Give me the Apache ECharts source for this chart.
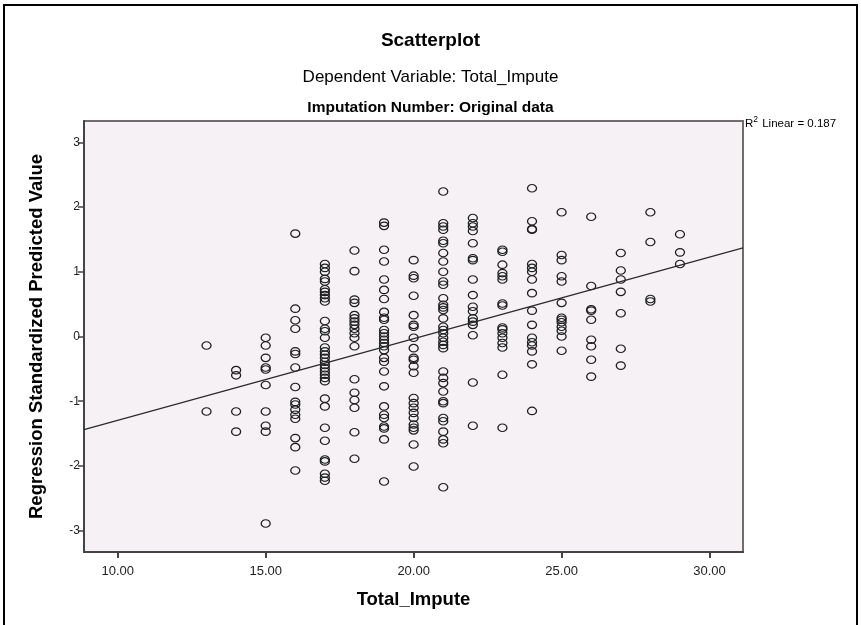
<!DOCTYPE html>
<html>
<head>
<meta charset="utf-8">
<script src="https://cdn.jsdelivr.net/npm/echarts@6/dist/echarts.min.js"></script>
<style>
html,body{margin:0;padding:0;background:#fff;}
#chart{width:861px;height:625px;}
</style>
</head>
<body>
<div id="chart"></div>
<script>
// Total_Impute values (x) and their Regression Standardized Predicted Values (y)
const col13 = [-0.14, -1.16];
const col14 = [-0.52, -0.60, -1.16, -1.47];
const col15 = [-0.02, -0.14, -0.33, -0.48, -0.51, -0.75, -1.16, -1.38, -1.47, -2.89];
const col16 = [1.59, 0.43, 0.25, 0.12, -0.23, -0.27, -0.48, -0.78, -1.01, -1.05, -1.13, -1.21, -1.27, -1.57, -1.71, -2.07];
const col17 = [1.12, 1.06, 1.00, 0.89, 0.85, 0.73, 0.69, 0.64, 0.59, 0.54, 0.24, 0.12, 0.08, -0.02, -0.17, -0.23, -0.28, -0.33, -0.39, -0.44, -0.49, -0.54, -0.59, -0.64, -0.69, -0.96, -1.08, -1.41, -1.61, -1.90, -1.93, -2.12, -2.18, -2.23];
const col18 = [1.33, 1.01, 0.57, 0.52, 0.33, 0.28, 0.23, 0.18, 0.12, 0.05, -0.02, -0.15, -0.66, -0.87, -0.98, -1.10, -1.48, -1.89];
const col19 = [1.76, 1.71, 1.34, 1.16, 0.88, 0.72, 0.58, 0.38, 0.29, 0.26, 0.10, 0.05, 0.00, -0.05, -0.10, -0.15, -0.21, -0.33, -0.39, -0.54, -0.77, -1.08, -1.21, -1.26, -1.39, -1.42, -1.59, -2.24];
const col20 = [1.18, 0.94, 0.90, 0.63, 0.33, 0.18, 0.15, -0.02, -0.18, -0.33, -0.36, -0.46, -0.56, -0.95, -1.03, -1.10, -1.18, -1.26, -1.36, -1.41, -1.45, -1.67, -2.01];
const col21 = [2.24, 1.75, 1.70, 1.65, 1.48, 1.44, 1.29, 1.16, 1.00, 0.85, 0.80, 0.59, 0.49, 0.45, 0.41, 0.28, 0.15, 0.10, 0.05, -0.02, -0.08, -0.13, -0.18, -0.54, -0.64, -0.72, -0.85, -1.00, -1.03, -1.26, -1.31, -1.47, -1.59, -1.65, -2.33];
const col22 = [1.83, 1.75, 1.70, 1.63, 1.44, 1.21, 1.18, 0.88, 0.64, 0.46, 0.39, 0.28, 0.23, 0.18, 0.02, -0.71, -1.38];
const col23 = [1.34, 1.31, 1.11, 0.98, 0.93, 0.88, 0.51, 0.48, 0.14, 0.11, 0.05, -0.02, -0.10, -0.17, -0.59, -1.41];
const col24 = [2.29, 1.78, 1.66, 1.65, 1.12, 1.06, 1.00, 0.88, 0.67, 0.40, 0.18, -0.02, -0.09, -0.14, -0.23, -0.43, -1.15];
const col25 = [1.92, 1.26, 1.18, 0.93, 0.85, 0.52, 0.29, 0.26, 0.22, 0.15, 0.09, 0.00, -0.22];
const col26 = [1.85, 0.78, 0.42, 0.40, 0.26, -0.05, -0.15, -0.36, -0.62];
const col27 = [1.29, 1.02, 0.88, 0.69, 0.36, -0.19, -0.45];
const col28 = [1.92, 1.46, 0.58, 0.54];
const col29 = [1.58, 1.30, 1.12];

const xValues = [13, 14, 15, 16, 17, 18, 19, 20, 21, 22, 23, 24, 25, 26, 27, 28, 29];
const yColumns = [col13, col14, col15, col16, col17, col18, col19, col20, col21, col22, col23, col24, col25, col26, col27, col28, col29];

// Fit line endpoints (at the axis extremes)
const fitX = [8.86, 31.13];
const fitY = [-1.44, 1.37];

const xTickValues = [10, 15, 20, 25, 30];
const yTickValues = [-3, -2, -1, 0, 1, 2, 3];
const xRange = [8.86, 31.13];
const yRange = [-3.33, 3.33];

const titleText = 'Scatterplot';
const subtitleText = 'Dependent Variable: Total_Impute';
const imputationText = 'Imputation Number: Original data';
const xName = 'Total_Impute';
const yName = 'Regression Standardized Predicted Value';
const r2Value = '0.187';

const points = [];
xValues.forEach((x, i) => yColumns[i].forEach(y => points.push([x, y])));
const fitData = fitX.map((x, i) => [x, fitY[i]]);

const FONT = '"Liberation Sans", Arial, sans-serif';
const chart = echarts.init(document.getElementById('chart'), null, {renderer: 'canvas'});

chart.setOption({
  backgroundColor: '#ffffff',
  animation: false,
  title: [
    {text: titleText, left: 'center', top: 26, textStyle: {fontFamily: FONT, fontSize: 19, fontWeight: 'bold', color: '#000'}},
    {text: subtitleText, left: 'center', top: 64, textStyle: {fontFamily: FONT, fontSize: 17, fontWeight: 'normal', color: '#000'}},
    {text: imputationText, left: 'center', top: 95, textStyle: {fontFamily: FONT, fontSize: 15.5, fontWeight: 'bold', color: '#000'}}
  ],
  graphic: [
    {type: 'rect', shape: {x: 4, y: 5, width: 853, height: 640}, style: {fill: 'none', stroke: '#000', lineWidth: 2}, silent: true},
    {type: 'text', left: 745, top: 115, style: {
      text: '{a|R}{s|2}{a| Linear = ' + r2Value + '}',
      rich: {
        a: {fontFamily: FONT, fontSize: 11.5, fill: '#000', verticalAlign: 'bottom'},
        s: {fontFamily: FONT, fontSize: 8.5, fill: '#000', verticalAlign: 'top', padding: [0, 1, 6, 0]}
      }
    }}
  ],
  grid: {left: 84, right: 118, top: 121, bottom: 73, show: true, backgroundColor: '#f5f1f5', borderColor: '#6e6e6e', borderWidth: 2},
  xAxis: {
    type: 'value', min: xRange[0], max: xRange[1],
    name: xName, nameLocation: 'middle', nameGap: 38,
    nameTextStyle: {fontFamily: FONT, fontSize: 18.5, fontWeight: 'bold', color: '#000'},
    axisLine: {show: true, onZero: false, lineStyle: {color: '#444', width: 2}},
    axisTick: {show: true, length: 6, lineStyle: {color: '#444', width: 2}, customValues: xTickValues},
    axisLabel: {customValues: xTickValues, formatter: v => v.toFixed(2), fontFamily: FONT, fontSize: 13, color: '#222', margin: 13},
    splitLine: {show: false}
  },
  yAxis: {
    type: 'value', min: yRange[0], max: yRange[1],
    name: yName, nameLocation: 'middle', nameGap: 38, nameRotate: 90,
    nameTextStyle: {fontFamily: FONT, fontSize: 18.5, fontWeight: 'bold', color: '#000'},
    axisLine: {show: true, onZero: false, lineStyle: {color: '#444', width: 2}},
    axisTick: {show: true, length: 6, lineStyle: {color: '#444', width: 1.5}, customValues: yTickValues},
    axisLabel: {customValues: yTickValues, fontFamily: FONT, fontSize: 12, color: '#222', margin: 4},
    splitLine: {show: false}
  },
  series: [
    {
      type: 'scatter', data: points, symbol: 'circle', symbolSize: [9, 7.5],
      itemStyle: {color: 'rgba(0,0,0,0)', borderColor: '#1e1e1e', borderWidth: 1.2, opacity: 1},
      emphasis: {disabled: true}, z: 3
    },
    {
      type: 'line', data: fitData, showSymbol: false, symbol: 'none',
      lineStyle: {color: '#2a2a2a', width: 1.2}, z: 4, silent: true
    }
  ]
});
</script>
</body>
</html>
